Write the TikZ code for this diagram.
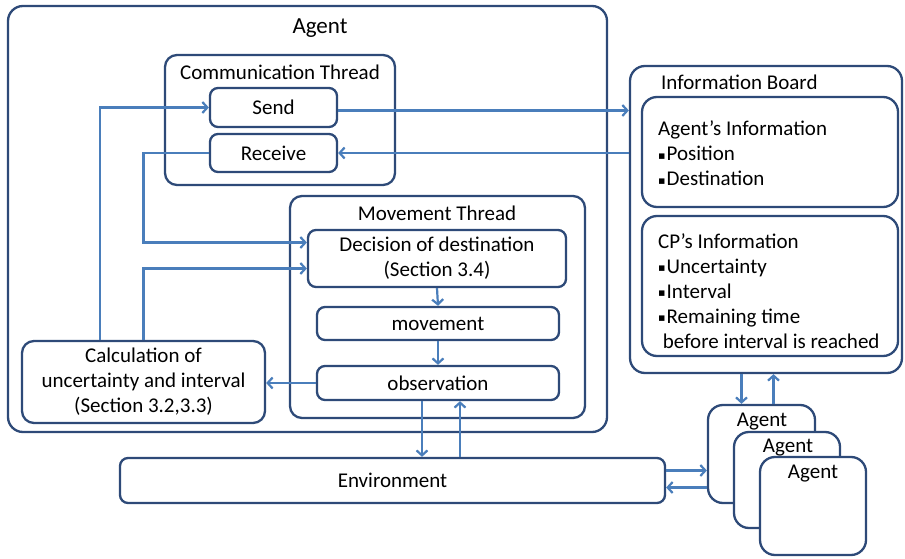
\documentclass[tikz,border=0pt]{standalone}
\usepackage{fontspec}
\setmainfont{Carlito}
\newfontfamily\symfont{DejaVu Sans}
\usetikzlibrary{arrows.meta}
\definecolor{boxline}{HTML}{2E4A78}
\definecolor{flowline}{HTML}{4A7EBB}
\newcommand\sqb{{\symfont\fontsize{11}{11}\selectfont\raisebox{1.5pt}{▪}}\kern1pt}

\begin{document}
\begin{tikzpicture}[x=1pt,y=-1pt,
  box/.style={draw=boxline, fill=white, line width=2.3pt, rounded corners=8pt,
    inner sep=0pt, font=\fontsize{21}{25}\selectfont, align=center},
  bigbox/.style={box, rounded corners=15pt},
  txt/.style={inner sep=0pt, font=\fontsize{21}{25}\selectfont},
  flow/.style={draw=flowline, line width=2.2pt,
    -{Straight Barb[length=5pt,width=11pt,line width=2.2pt]}}]
\useasboundingbox (0,0) rectangle (905,559);

% ---------- agent ----------
\node[bigbox, minimum width=599, minimum height=426] (agent) at (307.5,219) {};
\node[txt, font=\fontsize{23}{27}\selectfont] (agenttitle) at (320,28) {Agent};

% communication thread
\node[box, rounded corners=12pt, minimum width=230, minimum height=130] (comm) at (280,120) {};
\node[txt] (commtitle) at (280,72) {Communication Thread};
\node[box, minimum width=127, minimum height=39] (send) at (273.5,107.5) {Send};
\node[box, minimum width=127, minimum height=38] (recv) at (273.5,153) {Receive};

% movement thread
\node[box, rounded corners=12pt, minimum width=295, minimum height=222] (move) at (437.5,307) {};
\node[txt] (movetitle) at (437,213) {Movement Thread};
\node[box, minimum width=258, minimum height=57] (dec) at (437,258.5)
  {Decision of destination\\(Section 3.4)};
\node[box, minimum width=242, minimum height=33] (mov) at (438,323.5) {movement};
\node[box, minimum width=242, minimum height=34] (obs) at (438,383) {observation};

% calculation
\node[box, rounded corners=12pt, minimum width=243, minimum height=82] (calc) at (143.5,382)
  {Calculation of\\uncertainty and interval\\(Section 3.2,3.3)};

% ---------- information board ----------
\node[bigbox, minimum width=272, minimum height=307] (board) at (766,219.5) {};
\node[txt, anchor=west] (boardtitle) at (661,82) {Information Board};
\node[bigbox, minimum width=256, minimum height=110] (aginfo) at (770,152) {};
\node[txt, align=left, anchor=west] (aginfotxt) at (658,153.5)
  {Agent’s Information\\\sqb Position\\\sqb Destination};
\node[bigbox, minimum width=256, minimum height=140] (cpinfo) at (770,286) {};
\node[txt, align=left, anchor=west] (cpinfotxt) at (658,291)
  {CP’s Information\\\sqb Uncertainty\\\sqb Interval\\\sqb Remaining time\\\ before interval is reached};

% ---------- environment and other agents ----------
\node[box, minimum width=545, minimum height=45] (env) at (392.5,480.5) {Environment};
\node[bigbox, minimum width=107, minimum height=98] (ag1) at (761.5,454) {};
\node[txt] (ag1t) at (762,422) {Agent};
\node[bigbox, minimum width=106, minimum height=96] (ag2) at (787,480) {};
\node[txt] (ag2t) at (788,448) {Agent};
\node[bigbox, minimum width=106, minimum height=98] (ag3) at (813,506) {};
\node[txt] (ag3t) at (813,474) {Agent};

% ---------- connectors ----------
\draw[flow] ([yshift=-3pt]send.east) -- ([yshift=-3pt]send.east -| board.west);
\draw[flow] (recv.east -| board.west) -- (recv.east);
\draw[flow] (recv.west) -| ([yshift=16pt]dec.west -| calc.north) -- ([yshift=16pt]dec.west);
\draw[flow] (calc.north) |- ([yshift=-10pt]dec.west);
\draw[flow] ([xshift=-43.5pt]calc.north) |- (send.west);
\draw[flow] (dec.south) -- (mov.north);
\draw[flow] (mov.south) -- (obs.north);
\draw[flow] (obs.west) -- (obs.west -| calc.east);
\draw[flow] ([xshift=-16pt]obs.south) -- ([xshift=-16pt]obs.south |- env.north);
\draw[flow] ([xshift=22pt]obs.south |- env.north) -- ([xshift=22pt]obs.south);
\draw[flow] ([xshift=-20pt]ag1.north |- board.south) -- ([xshift=-20pt]ag1.north);
\draw[flow] ([xshift=12pt]ag1.north) -- ([xshift=12pt]ag1.north |- board.south);
\draw[flow] ([yshift=10pt]env.east) -- ([yshift=10pt]env.east -| ag1.west);
\draw[flow] ([yshift=-7pt]env.east -| ag1.west) -- ([yshift=-7pt]env.east);
\end{tikzpicture}
\end{document}
